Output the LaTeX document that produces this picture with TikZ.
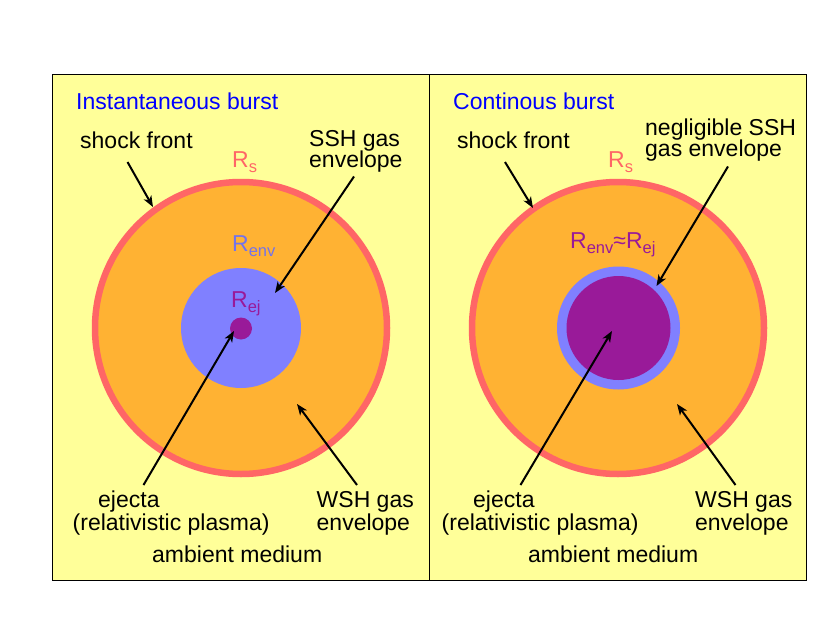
\documentclass[tikz,border=0pt]{standalone}
\usepackage{fontspec}
\setmainfont{Liberation Sans}
\usetikzlibrary{arrows.meta}
\definecolor{bgyel}{RGB}{255,255,153}
\definecolor{orng}{RGB}{255,178,51}
\definecolor{ringred}{RGB}{255,102,102}
\definecolor{envblue}{RGB}{128,128,255}
\definecolor{envtext}{RGB}{115,115,235}
\definecolor{ejpurple}{RGB}{153,26,153}
\newcommand{\sbs}[1]{\raisebox{-5pt}{\fontsize{16.5}{16.5}\selectfont #1}}
\begin{document}
\begin{tikzpicture}[x=1pt,y=-1pt,
  lbl/.style={anchor=base west,inner sep=0pt,font=\fontsize{23}{25}\selectfont},
  arr/.style={line width=2pt,-{Stealth[length=11pt,width=8.5pt,inset=3pt]}},
  ring/.style={fill=orng,draw=ringred,line width=6.5pt}]
\useasboundingbox (0,0) rectangle (830,642);
\fill[white] (0,0) rectangle (830,642);
% panels
\draw[fill=bgyel,line width=1pt] (52,75) rectangle (806,580);
\draw[line width=1pt] (429.5,75) -- (429.5,580);
% left circles
\draw[ring] (241,328) circle (146);
\fill[envblue] (241,328) circle (60);
\fill[ejpurple] (241,328.5) circle (11);
% right circles
\draw[ring] (618,328) circle (146);
\fill[envblue] (618.5,328) circle (61.5);
\fill[ejpurple] (618.5,328) circle (52);
% left labels
\node[lbl,text=blue] (t1) at (76,109.5) {Instantaneous burst};
\node[lbl] (sf1) at (80,148) {shock front};
\node[lbl,text=ringred] (rs1) at (232,167) {R\sbs{s}};
\node[lbl] (ssh1a) at (309,146) {SSH gas};
\node[lbl] (ssh1b) at (309,167) {envelope};
\node[lbl,text=envtext] (renv1) at (232,251.5) {R\sbs{env}};
\node[lbl,text=ejpurple] (rej1) at (231,307.5) {R\sbs{ej}};
\node[lbl] (ej1a) at (98,507) {ejecta};
\node[lbl] (ej1b) at (72.5,530.5) {(relativistic plasma)};
\node[lbl] (wsh1a) at (316.5,507) {WSH gas};
\node[lbl] (wsh1b) at (316.5,530.5) {envelope};
\node[lbl] (amb1) at (152,562) {ambient medium};
% right labels
\node[lbl,text=blue] (t2) at (453,109.5) {Continous burst};
\node[lbl] (sf2) at (457,148) {shock front};
\node[lbl,text=ringred] (rs2) at (608,167) {R\sbs{s}};
\node[lbl] (ssh2a) at (645,135) {negligible SSH};
\node[lbl] (ssh2b) at (645,156) {gas envelope};
\node[lbl,text=ejpurple] (renv2) at (570,248) {R\sbs{env}≈R\sbs{ej}};
\node[lbl] (ej2a) at (473,507) {ejecta};
\node[lbl] (ej2b) at (441.5,530.5) {(relativistic plasma)};
\node[lbl] (wsh2a) at (695,507) {WSH gas};
\node[lbl] (wsh2b) at (695,530.5) {envelope};
\node[lbl] (amb2) at (528,562) {ambient medium};
% arrow coordinates
\coordinate (a1s) at (127.5,162); \coordinate (a1e) at (153,207);
\coordinate (b1s) at (354,176.5); \coordinate (b1e) at (275,293);
\coordinate (c1s) at (143.5,485); \coordinate (c1e) at (234,331);
\coordinate (d1s) at (357,485); \coordinate (d1e) at (297,404);
\coordinate (a2s) at (505,162); \coordinate (a2e) at (533,208);
\coordinate (b2s) at (728,166.5); \coordinate (b2e) at (656.5,286);
\coordinate (c2s) at (520.5,485); \coordinate (c2e) at (612,331);
\coordinate (d2s) at (735.5,485); \coordinate (d2e) at (677,404);
\foreach \p in {a1,b1,c1,d1,a2,b2,c2,d2}{\draw[arr] (\p s) -- (\p e);}
\end{tikzpicture}
\end{document}
